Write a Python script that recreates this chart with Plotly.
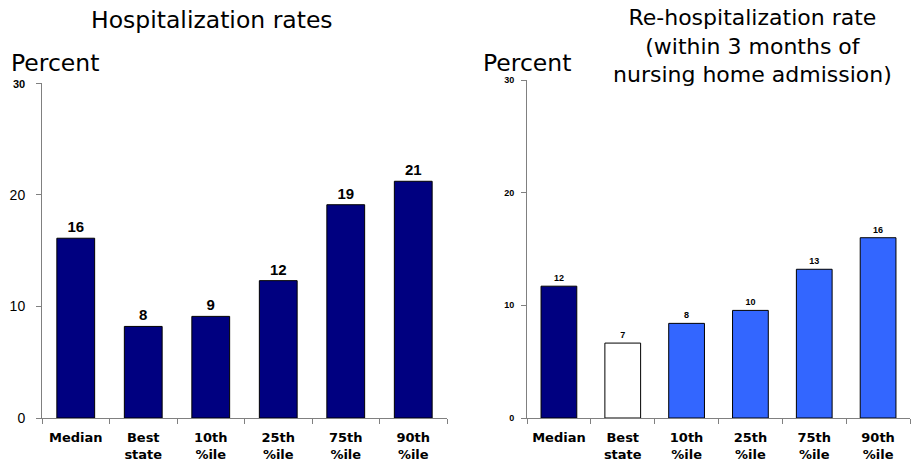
import plotly.graph_objects as go

categories = ["Median", "Best<br>state", "10th<br>%ile", "25th<br>%ile", "75th<br>%ile", "90th<br>%ile"]
hosp_values = [16.1, 8.2, 9.1, 12.3, 19.1, 21.2]
hosp_labels = ["16", "8", "9", "12", "19", "21"]
rehosp_values = [11.7, 6.65, 8.4, 9.55, 13.2, 16.0]
rehosp_labels = ["12", "7", "8", "10", "13", "16"]
rehosp_colors = ["#000080", "#FFFFFF", "#3366FF", "#3366FF", "#3366FF", "#3366FF"]
left_title = "Hospitalization rates"
right_title = "Re-hospitalization rate<br>(within 3 months of<br>nursing home admission)"

W, H = 914, 465


def px(xs):
    return xs / W


def py(ys):
    return 1 - ys / H


fig = go.Figure()
fig.add_trace(go.Bar(
    x=categories, y=hosp_values, text=hosp_labels, textposition="outside",
    textfont=dict(family="Liberation Sans", size=15, color="black"),
    marker=dict(color="#000080", line=dict(color="black", width=1)),
    width=0.56, xaxis="x", yaxis="y", cliponaxis=False, showlegend=False,
))
fig.add_trace(go.Bar(
    x=categories, y=rehosp_values, text=rehosp_labels, textposition="outside",
    textfont=dict(family="Liberation Sans", size=9, color="black"),
    marker=dict(color=rehosp_colors, line=dict(color="black", width=1)),
    width=0.56, xaxis="x2", yaxis="y2", cliponaxis=False, showlegend=False,
))
fig.update_traces(texttemplate="<b>%{text}</b>", hoverinfo="skip")

tickfont_x = dict(family="DejaVu Sans", size=13, color="black", weight="bold")
common_x = dict(showline=True, linecolor="#808080", linewidth=1, ticks="outside",
                tickson="boundaries", ticklen=5, tickcolor="#808080", tickfont=tickfont_x,
                showgrid=False, automargin=False, ticklabelstandoff=7)
common_y = dict(range=[0, 30], showline=True, linecolor="#808080", linewidth=1, ticks="outside",
                ticklen=5, tickcolor="#808080", showgrid=False, zeroline=False,
                tickvals=[0, 10, 20, 30], automargin=False)

title_font = dict(family="DejaVu Sans", size=23.5, color="black")

annotations = [
    dict(text=left_title, x=px(212), y=py(20), xref="paper", yref="paper",
         showarrow=False, xanchor="center", yanchor="middle", font=title_font),
    dict(text="Percent", x=px(9), y=py(63), xref="paper", yref="paper",
         showarrow=False, xanchor="left", yanchor="middle", font=title_font),
    dict(text="Percent", x=px(481), y=py(63), xref="paper", yref="paper",
         showarrow=False, xanchor="left", yanchor="middle", font=title_font),
    dict(text=right_title, x=px(752), y=py(46), xref="paper", yref="paper",
         showarrow=False, xanchor="center", yanchor="middle",
         font=dict(family="DejaVu Sans", size=22, color="black")),
]

fig.update_layout(
    width=W, height=H,
    margin=dict(l=0, r=0, t=0, b=0),
    paper_bgcolor="white", plot_bgcolor="white",
    xaxis=dict(domain=[px(42), px(447)], anchor="y", **common_x),
    yaxis=dict(domain=[py(418), py(83)], anchor="x", **common_y,
               ticktext=["0", "10", "20", "<span style='font-size:11px'><b>30</b></span>"],
               ticklabelstandoff=8,
               tickfont=dict(family="Liberation Sans", size=14, color="black")),
    xaxis2=dict(domain=[px(527), px(910)], anchor="y2", **common_x),
    yaxis2=dict(domain=[py(418), py(80)], anchor="x2", **common_y,
                ticktext=["<b>0</b>", "<b>10</b>", "<b>20</b>", "<b>30</b>"],
                ticklabelstandoff=5,
                tickfont=dict(family="Liberation Sans", size=9, color="black")),
    annotations=annotations,
)

fig.write_html("out.html", config={"displayModeBar": False},
               post_script="document.body.style.margin='0';")
